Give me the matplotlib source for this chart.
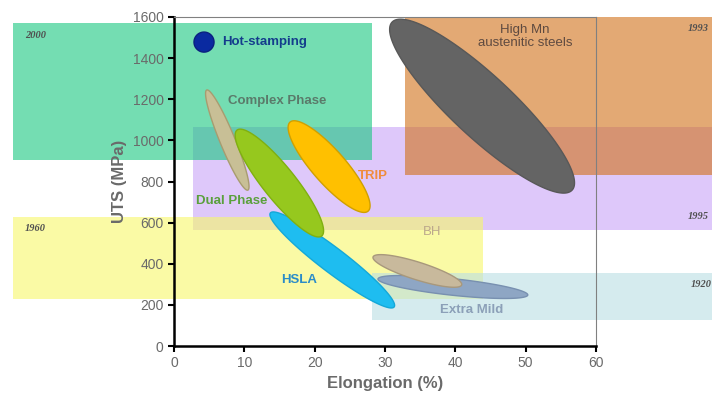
import numpy as np
import matplotlib.pyplot as plt
from matplotlib.patches import Rectangle

plt.rcParams['font.family'] = ['Liberation Sans', 'DejaVu Sans']

# era bands (elongation %, UTS MPa)
era_years = ['1995', '1960', '1920', '2000', '1993']
era_x0 = [2.7, -22.9, 28.2, -22.9, 32.8]
era_x1 = [76.5, 43.9, 76.5, 28.2, 76.5]
era_y0 = [564, 229, 126, 905, 831]
era_y1 = [1065, 627, 355, 1570, 1600]
era_label_x = [73.0, -21.2, 73.5, -21.2, 73.0]
era_label_y = [632, 569, 301, 1512, 1546]
era_colors = ['#dec8fa', (0.97, 0.97, 0.41, 0.6), (0.73, 0.87, 0.89, 0.6),
              (0.09, 0.78, 0.50, 0.6), (0.82, 0.44, 0.09, 0.6)]

# steel grades: ellipse tips and thickness ratio
grades = ['Extra Mild', 'BH', 'HSLA', 'Complex Phase', 'Dual Phase', 'TRIP',
          'High Mn', 'Hot-stamping']
tip1_el = [29.0, 28.3, 13.7, 4.65, 8.96, 16.5, 31.0, 2.84]
tip1_uts = [326, 433, 647, 1245, 1050, 1089, 1575, 1478]
tip2_el = [50.3, 40.9, 31.3, 10.5, 21.0, 27.6, 56.6, 5.69]
tip2_uts = [248, 297, 190, 758, 535, 656, 758, 1478]
ratio = [0.11, 0.19, 0.16, 0.14, 0.24, 0.28, 0.25, 1.0]
fill_c = ['#8ea6c4', '#c8b99c', '#1ebdf0', '#c8bf96', '#96c81e', '#ffc000',
          '#646464', '#0a2aa0']
edge_c = ['#7890b0', '#a8987c', '#14a8d8', '#a89c70', '#80b010', '#d0a000',
          '#585858', '#0a2080']

# grade labels
label_txt = ['Extra Mild', 'BH', 'HSLA', 'Complex Phase', 'Dual Phase', 'TRIP',
             'High Mn\naustenitic steels', 'Hot-stamping']
label_x = [37.8, 36.7, 15.2, 7.7, 3.1, 26.2, 49.9, 6.8]
label_y = [175, 554, 321, 1191, 705, 827, 1505, 1478]
label_col = ['#8ca0b8', '#bca88c', '#2a8cc8', '#5a7a6a', '#5aa03c', '#f08c3c',
             '#5e4a40', '#143c8c']

fig = plt.figure(figsize=(7.12, 4), dpi=100)
ax = fig.add_axes([0.2444, 0.135, 0.5927, 0.8225])
ax.set_xlim(0, 60)
ax.set_ylim(0, 1600)

for i in range(len(era_years)):
    ax.add_patch(Rectangle((era_x0[i], era_y0[i]), era_x1[i] - era_x0[i],
                           era_y1[i] - era_y0[i], facecolor=era_colors[i],
                           edgecolor='none', clip_on=False, zorder=1))
    ax.text(era_label_x[i], era_label_y[i], era_years[i], fontsize=7.5,
            family='Liberation Serif', style='italic', weight='bold',
            color='#505050', va='center', clip_on=False, zorder=1.5)

t = np.linspace(0, 2 * np.pi, 200)
for i in range(len(grades)):
    p1 = ax.transData.transform((tip1_el[i], tip1_uts[i]))
    p2 = ax.transData.transform((tip2_el[i], tip2_uts[i]))
    c = (p1 + p2) / 2
    a = (p2 - p1) / 2
    b = np.array([-a[1], a[0]]) * ratio[i]
    pts = c + np.outer(np.cos(t), a) + np.outer(np.sin(t), b)
    d = ax.transData.inverted().transform(pts)
    ax.fill(d[:, 0], d[:, 1], facecolor=fill_c[i], edgecolor=edge_c[i],
            lw=1, zorder=2, clip_on=False)

for i in range(len(label_txt)):
    ha = 'center' if label_txt[i] in ('BH', 'High Mn\naustenitic steels') else 'left'
    bold = 'normal' if label_txt[i] in ('BH', 'High Mn\naustenitic steels') else 'bold'
    ax.text(label_x[i], label_y[i], label_txt[i], color=label_col[i],
            fontsize=9.5, weight=bold, ha=ha, va='center', zorder=3,
            linespacing=1.1)

ax.set_xticks(range(0, 61, 10))
ax.set_yticks(range(0, 1601, 200))
ax.tick_params(direction='out', length=4, width=1.5, colors='black',
               labelcolor='#6a6a6a', labelsize=10)
for s in ['left', 'bottom']:
    ax.spines[s].set_linewidth(1.8)
    ax.spines[s].set_zorder(4)
for s in ['top', 'right']:
    ax.spines[s].set_linewidth(0.8)
    ax.spines[s].set_color('#808080')
    ax.spines[s].set_zorder(4)
ax.set_xlabel('Elongation (%)', fontsize=12, weight='bold', color='#6a6a6a')
ax.set_ylabel('UTS (MPa)', fontsize=12, weight='bold', color='#6a6a6a')

plt.savefig('out.png', dpi=100)
